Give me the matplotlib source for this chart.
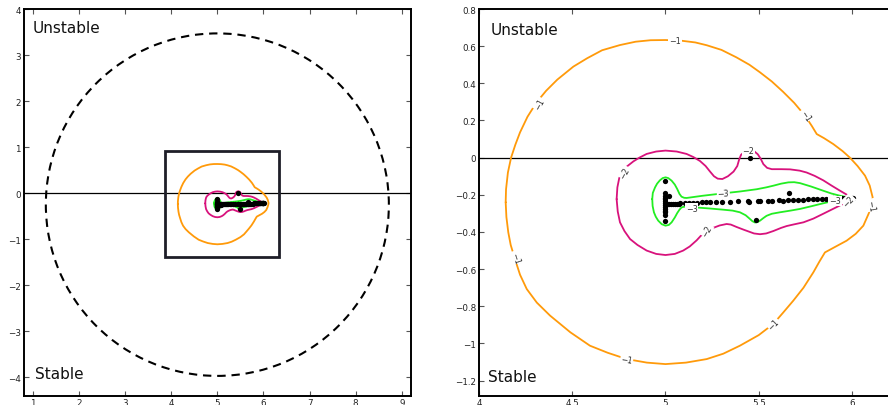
import matplotlib
matplotlib.use("Agg")
import matplotlib.pyplot as plt
from matplotlib.patches import Circle, Rectangle

# ---------------- data ----------------
# eigenvalues
eig_x = [5.0, 5.0, 5.0, 5.0, 5.0, 5.0, 5.0, 5.0, 5.0, 5.0, 5.0, 5.0, 5.0, 5.0, 5.02,
         5.01, 5.02, 5.03, 5.04, 5.05, 5.06, 5.07,
         5.08, 5.105, 5.128, 5.149, 5.171, 5.194, 5.217, 5.239, 5.269, 5.301, 5.346,
         5.39, 5.441, 5.45, 5.498, 5.507, 5.548, 5.569, 5.61, 5.632, 5.659, 5.685,
         5.712, 5.74, 5.765, 5.79, 5.815, 5.838, 5.86, 5.88, 5.9, 5.918, 5.934, 5.948,
         5.96, 5.971, 5.98, 5.988, 5.994, 5.999, 6.003,
         5.453, 5.485, 5.662]
eig_y = [-0.125, -0.19, -0.205, -0.215, -0.225, -0.235, -0.245, -0.255, -0.265, -0.275,
         -0.285, -0.295, -0.31, -0.34, -0.205,
         -0.250, -0.250, -0.249, -0.249, -0.248, -0.248, -0.247,
         -0.246, -0.245, -0.244, -0.243, -0.242, -0.241, -0.240, -0.239, -0.238, -0.237,
         -0.236, -0.235, -0.232, -0.236, -0.231, -0.235, -0.233, -0.232, -0.229, -0.231,
         -0.229, -0.228, -0.227, -0.226, -0.225, -0.224, -0.223, -0.222, -0.221, -0.220,
         -0.219, -0.219, -0.218, -0.218, -0.217, -0.217, -0.216, -0.216, -0.215, -0.215,
         -0.215,
         0.0, -0.335, -0.19]

# level -1 contour (orange)
c1_x = [4.143, 4.145, 4.155, 4.172, 4.195, 4.22, 4.26, 4.309, 4.36, 4.42, 4.506,
        4.58, 4.66, 4.756, 4.84, 4.92, 5.0, 5.08, 5.16, 5.221, 5.3, 5.38, 5.45,
        5.507, 5.57, 5.63, 5.69, 5.748, 5.785, 5.811, 5.85, 5.9, 5.95, 5.989, 6.03,
        6.07, 6.095, 6.111, 6.105, 6.09, 6.061, 6.02, 5.971, 5.91, 5.855, 5.825,
        5.793, 5.74, 5.685, 5.63, 5.578, 5.5, 5.399, 5.31, 5.221, 5.11, 5.0, 4.9,
        4.792, 4.69, 4.595, 4.49, 4.381, 4.31, 4.256, 4.22, 4.193, 4.17, 4.157,
        4.147, 4.143]
c1_y = [-0.24, -0.17, -0.08, 0.0, 0.07, 0.136, 0.22, 0.298, 0.36, 0.42, 0.49,
        0.535, 0.578, 0.606, 0.624, 0.632, 0.633, 0.63, 0.62, 0.605, 0.58, 0.54,
        0.5, 0.459, 0.41, 0.355, 0.295, 0.226, 0.17, 0.127, 0.105, 0.073, 0.035,
        0.0, -0.045, -0.097, -0.15, -0.214, -0.25, -0.3, -0.366, -0.41, -0.447,
        -0.48, -0.51, -0.56, -0.617, -0.7, -0.77, -0.835, -0.895, -0.955, -1.012,
        -1.055, -1.084, -1.103, -1.111, -1.103, -1.084, -1.05, -1.012, -0.94,
        -0.85, -0.78, -0.707, -0.63, -0.546, -0.47, -0.402, -0.32, -0.24]

# level -2 contour (magenta)
c2_x = [4.738, 4.742, 4.752, 4.765, 4.79, 4.828, 4.86, 4.899, 4.95, 5.0, 5.06,
        5.113, 5.15, 5.185, 5.215, 5.239, 5.26, 5.28, 5.305, 5.335, 5.365, 5.385,
        5.395, 5.405, 5.425, 5.45, 5.475, 5.495, 5.51, 5.525, 5.545, 5.57, 5.62,
        5.668, 5.72, 5.757, 5.8, 5.846, 5.89, 5.936, 5.97, 5.998, 5.98, 5.94, 5.9,
        5.85, 5.793, 5.74, 5.685, 5.65, 5.62, 5.578, 5.54, 5.507, 5.475, 5.453,
        5.42, 5.381, 5.35, 5.328, 5.29, 5.256, 5.221, 5.19, 5.167, 5.13, 5.095,
        5.05, 5.0, 4.95, 4.899, 4.85, 4.81, 4.78, 4.756, 4.744, 4.738]
c2_y = [-0.223, -0.16, -0.11, -0.079, -0.05, -0.02, 0.0, 0.02, 0.033, 0.038,
        0.033, 0.02, 0.003, -0.018, -0.045, -0.075, -0.1, -0.113, -0.115, -0.1,
        -0.075, -0.045, -0.01, 0.015, 0.033, 0.04, 0.035, 0.018, -0.005, -0.035,
        -0.055, -0.062, -0.062, -0.063, -0.07, -0.08, -0.098, -0.122, -0.15,
        -0.178, -0.198, -0.214, -0.235, -0.255, -0.275, -0.3, -0.328, -0.348,
        -0.36, -0.368, -0.378, -0.395, -0.408, -0.412, -0.408, -0.4, -0.388,
        -0.373, -0.36, -0.357, -0.365, -0.378, -0.395, -0.42, -0.445, -0.478,
        -0.5, -0.518, -0.524, -0.518, -0.5, -0.47, -0.438, -0.395, -0.348,
        -0.29, -0.223]

# level -3 contour (green)
c3_x = [4.929, 4.932, 4.944, 4.955, 4.97, 4.985, 5.0, 5.015, 5.033, 5.05, 5.063,
        5.075, 5.086, 5.1, 5.113, 5.2, 5.31, 5.4, 5.489, 5.54, 5.578, 5.62, 5.659,
        5.69, 5.721, 5.78, 5.846, 5.89, 5.936, 5.97, 6.002, 5.96, 5.91, 5.87,
        5.828, 5.78, 5.721, 5.67, 5.614, 5.57, 5.542, 5.525, 5.507, 5.493, 5.48,
        5.466, 5.453, 5.43, 5.399, 5.36, 5.31, 5.23, 5.149, 5.1, 5.086, 5.075,
        5.063, 5.05, 5.033, 5.018, 5.0, 4.98, 4.961, 4.948, 4.938, 4.931, 4.929]
c3_y = [-0.223, -0.19, -0.16, -0.14, -0.122, -0.11, -0.106, -0.11, -0.124,
        -0.145, -0.169, -0.195, -0.21, -0.216, -0.217, -0.205, -0.192, -0.182,
        -0.17, -0.16, -0.151, -0.14, -0.133, -0.132, -0.137, -0.155, -0.178,
        -0.193, -0.205, -0.212, -0.217, -0.224, -0.232, -0.24, -0.25, -0.262,
        -0.276, -0.285, -0.294, -0.302, -0.313, -0.325, -0.339, -0.347, -0.349,
        -0.342, -0.33, -0.31, -0.294, -0.285, -0.28, -0.273, -0.267, -0.264,
        -0.268, -0.28, -0.298, -0.322, -0.348, -0.362, -0.366, -0.358, -0.339,
        -0.318, -0.294, -0.26, -0.223]

# contour label positions (x, y, rotation, text)
lab1 = [(5.051, 0.63, 0, "\u22121"), (4.323, 0.289, 62, "\u22121"),
        (5.748, 0.226, -57, "\u22121"), (6.102, -0.255, -80, "\u22121"),
        (5.578, -0.895, 45, "\u22121"), (4.792, -1.087, -10, "\u22121"),
        (4.193, -0.537, -72, "\u22121")]
lab2 = [(4.779, -0.079, 62, "\u22122"), (5.444, 0.038, 0, "\u22122"),
        (5.98, -0.232, 45, "\u22122"), (5.221, -0.393, 60, "\u22122")]
lab3 = [(5.31, -0.19, 3, "\u22123"), (5.14, -0.271, 0, "\u22123"),
        (5.909, -0.232, 0, "\u22123")]

# dashed circle and zoom box (left panel)
circ_center = (5.0, -0.25)
circ_radius = 3.72
box_x0, box_y0, box_x1, box_y1 = 3.863, -1.384, 6.336, 0.906

left_xticks = [1, 2, 3, 4, 5, 6, 7, 8, 9]
left_yticks = [-4, -3, -2, -1, 0, 1, 2, 3, 4]
right_xticks = [4, 4.5, 5, 5.5, 6]
right_yticks = [-1.2, -1, -0.8, -0.6, -0.4, -0.2, 0, 0.2, 0.4, 0.6, 0.8]

ORANGE = "#ff9a0a"
MAGENTA = "#d8127c"
GREEN = "#22ee22"

# ---------------- figure ----------------
W, H = 888, 406
fig = plt.figure(figsize=(W / 100, H / 100), dpi=100)
axL = fig.add_axes([23.7 / W, 9.3 / H, 387.3 / W, 386.7 / H])
axR = fig.add_axes([479 / W, 9.5 / H, 414 / W, 386.5 / H])


def fmt(v):
    s = ("%g" % v)
    return s.replace("-", "\u2212")


for ax in (axL, axR):
    for cx, cy, col in ((c1_x, c1_y, ORANGE), (c2_x, c2_y, MAGENTA),
                        (c3_x, c3_y, GREEN)):
        ax.plot(cx, cy, color=col, lw=1.3, zorder=3,
                solid_joinstyle="round", solid_capstyle="round")
    ax.axhline(0, color="black", lw=0.9, zorder=2)
    ax.plot(eig_x, eig_y, "o", color="black", ms=3.8, mec="none", zorder=5)
    ax.tick_params(direction="in", top=True, right=True, labelsize=6.3,
                   length=3.5, width=0.8, color="#555555", labelcolor="#222222",
                   pad=2)
    for sp in ax.spines.values():
        sp.set_linewidth(1.4)

axL.add_patch(Circle(circ_center, circ_radius, fill=False, ls=(0, (4, 2.8)),
                     lw=1.5, color="black", zorder=2))
axL.add_patch(Rectangle((box_x0, box_y0), box_x1 - box_x0, box_y1 - box_y0,
                        fill=False, lw=2.0, edgecolor="#1e1e28", zorder=4))
axL.set_xlim(0.8, 9.2)
axL.set_ylim(-4.4, 4.0)
axL.set_xticks(left_xticks)
axL.set_yticks(left_yticks)
axL.set_xticklabels([fmt(v) for v in left_xticks])
axL.set_yticklabels([fmt(v) for v in left_yticks])

axR.set_xlim(4.0, 6.22)
axR.set_ylim(-1.28, 0.8)
axR.set_xticks(right_xticks)
axR.set_yticks(right_yticks)
axR.set_xticklabels([fmt(v) for v in right_xticks])
axR.set_yticklabels([fmt(v) for v in right_yticks])

for labs in (lab1, lab2, lab3):
    for (x, y, r, t) in labs:
        axR.text(x, y, t, fontsize=5.8, rotation=r, ha="center", va="center",
                 color="#333333", zorder=6,
                 bbox=dict(boxstyle="square,pad=0.08", fc="white", ec="none"))

axL.text(0.023, 0.953, "Unstable", transform=axL.transAxes, fontsize=11,
         va="center", ha="left", color="#111111")
axL.text(0.028, 0.057, "Stable", transform=axL.transAxes, fontsize=11,
         va="center", ha="left", color="#111111")
axR.text(0.027, 0.946, "Unstable", transform=axR.transAxes, fontsize=11,
         va="center", ha="left", color="#111111")
axR.text(0.021, 0.049, "Stable", transform=axR.transAxes, fontsize=11,
         va="center", ha="left", color="#111111")

fig.savefig("out.png", dpi=100)
